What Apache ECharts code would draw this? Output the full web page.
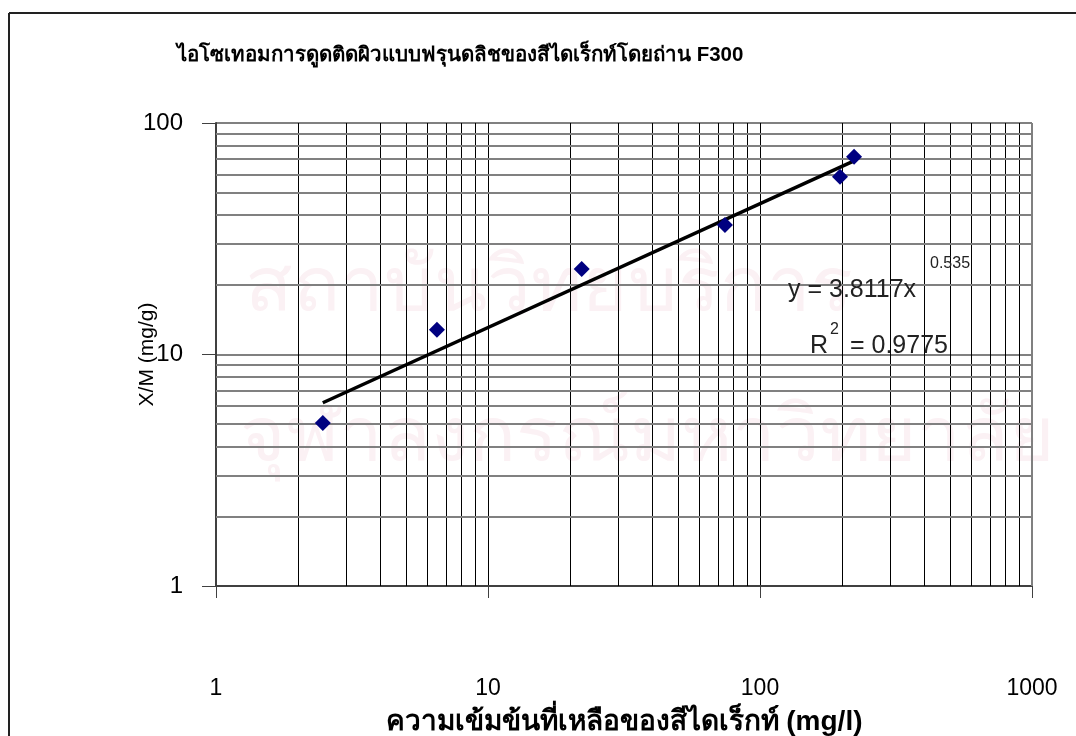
<!DOCTYPE html>
<html>
<head>
<meta charset="utf-8">
<script src="https://cdn.jsdelivr.net/npm/echarts@6/dist/echarts.min.js"></script>
<style>
  html, body { margin: 0; padding: 0; background: #fff; }
  #chart { width: 1076px; height: 736px; }
</style>
</head>
<body>
<div id="chart"></div>
<script>
// จุดข้อมูล (อ่านจากกราฟ)
var ceValues = [2.47, 6.49, 22.1, 74.3, 196.8, 221.7];   // mg/l
var xmValues = [5.06, 12.8, 23.4, 36.3, 58.6, 71.5];     // mg/g
// เส้นแนวโน้ม y = 3.8117x^0.535 (ปลายเส้นสองจุด)
var trendX = [2.47, 221.7];
var trendY = [6.19, 68.6];
var xTicks = [1, 10, 100, 1000];
var yTicks = [1, 10, 100];

var titleText = "ไอโซเทอมการดูดติดผิวแบบฟรุนดลิชของสีไดเร็กท์โดยถ่าน F300";
var xName = "ความเข้มข้นที่เหลือของสีไดเร็กท์ (mg/l)";
var yName = "X/M (mg/g)";

var font = "'Liberation Sans', Arial, 'DejaVu Sans', sans-serif";

// เส้นกริดย่อย 2..9 ในแต่ละ decade
function minorLines(ticks) {
  var out = [];
  for (var i = 0; i < ticks.length - 1; i++) {
    for (var k = 2; k <= 9; k++) out.push(ticks[i] * k);
  }
  return out;
}
var minorX = minorLines(xTicks);
var minorY = minorLines(yTicks);

var chart = echarts.init(document.getElementById("chart"));
var option = {
  backgroundColor: "#fff",
  animation: false,
  title: {
    text: titleText,
    left: 172,
    top: 40,
    textStyle: { fontFamily: font, fontSize: 20.5, fontWeight: "bold", color: "#000" }
  },
  grid: { left: 216, right: 44, top: 123, bottom: 150, outerBoundsMode: "none" },
  xAxis: {
    type: "log",
    logBase: 10,
    min: 1,
    max: 1000,
    name: xName,
    nameLocation: "middle",
    nameGap: 122,
    nameMoveOverlap: false,
    nameTextStyle: { fontFamily: font, fontSize: 28, fontWeight: "bold", color: "#000" },
    axisLine: { show: true, lineStyle: { color: "#404040", width: 2 } },
    axisTick: { show: true, length: 12, lineStyle: { color: "#404040", width: 1 } },
    axisLabel: {
      margin: 91, fontFamily: font, fontSize: 23, color: "#000",
      formatter: function (v) { return String(v); }
    },
    splitLine: { show: true, lineStyle: { color: "#000", width: 1 } }
  },
  yAxis: {
    type: "log",
    logBase: 10,
    min: 1,
    max: 100,
    name: yName,
    nameLocation: "middle",
    nameGap: 58,
    nameMoveOverlap: false,
    nameTextStyle: { fontFamily: font, fontSize: 21, color: "#000" },
    axisLine: { show: true, lineStyle: { color: "#404040", width: 2 } },
    axisTick: { show: true, length: 14, lineStyle: { color: "#404040", width: 1 } },
    axisLabel: {
      margin: 33, fontFamily: font, fontSize: 24, color: "#000",
      formatter: function (v) { return String(v); }
    },
    splitLine: { show: true, lineStyle: { color: "#808080", width: 2 } }
  },
  graphic: [
    { type: "text", z: -10, left: 245, top: 250,
      style: { text: "สถาบันวิทยบริการ", font: "78px " + font, fill: "#fbf1f4" } },
    { type: "text", z: -10, left: 240, top: 400,
      style: { text: "จุฬาลงกรณ์มหาวิทยาลัย", font: "78px " + font, fill: "#fbf1f4" } },
    { type: "line", z: 50, shape: { x1: 9, y1: 13, x2: 1076, y2: 13 },
      style: { stroke: "#222", lineWidth: 2 } },
    { type: "line", z: 50, shape: { x1: 9, y1: 13, x2: 9, y2: 736 },
      style: { stroke: "#222", lineWidth: 2 } },
    { type: "text", z: 50, left: 788, top: 278,
      style: { text: "y = 3.8117x", font: "25px " + font, fill: "#222" } },
    { type: "text", z: 50, left: 930, top: 256,
      style: { text: "0.535", font: "16px " + font, fill: "#222" } },
    { type: "text", z: 50, left: 810, top: 334,
      style: { text: "R", font: "25px " + font, fill: "#222" } },
    { type: "text", z: 50, left: 830, top: 322,
      style: { text: "2", font: "16px " + font, fill: "#222" } },
    { type: "text", z: 50, left: 843, top: 334,
      style: { text: " = 0.9775", font: "25px " + font, fill: "#222" } }
  ],
  series: [
    {
      name: "minorX",
      type: "line",
      data: [],
      markLine: {
        silent: true,
        symbol: "none",
        label: { show: false },
        lineStyle: { color: "#000", width: 1, type: "solid" },
        data: minorX.map(function (v) { return { xAxis: v }; })
      }
    },
    {
      name: "minorY",
      type: "line",
      data: [],
      markLine: {
        silent: true,
        symbol: "none",
        label: { show: false },
        lineStyle: { color: "#808080", width: 2, type: "solid" },
        data: minorY.map(function (v) { return { yAxis: v }; })
          .concat([{ xAxis: 1000 }])
      }
    },
    {
      name: "trend",
      type: "line",
      z: 5,
      symbol: "none",
      lineStyle: { color: "#000", width: 3.5 },
      data: trendX.map(function (x, i) { return [x, trendY[i]]; })
    },
    {
      name: "data",
      type: "scatter",
      z: 6,
      symbol: "diamond",
      symbolSize: 16,
      itemStyle: { color: "#000080", opacity: 1 },
      data: ceValues.map(function (x, i) { return [x, xmValues[i]]; })
    }
  ]
};
chart.setOption(option);
window.addEventListener("resize", function () {
  chart.resize();
});
</script>
</body>
</html>
